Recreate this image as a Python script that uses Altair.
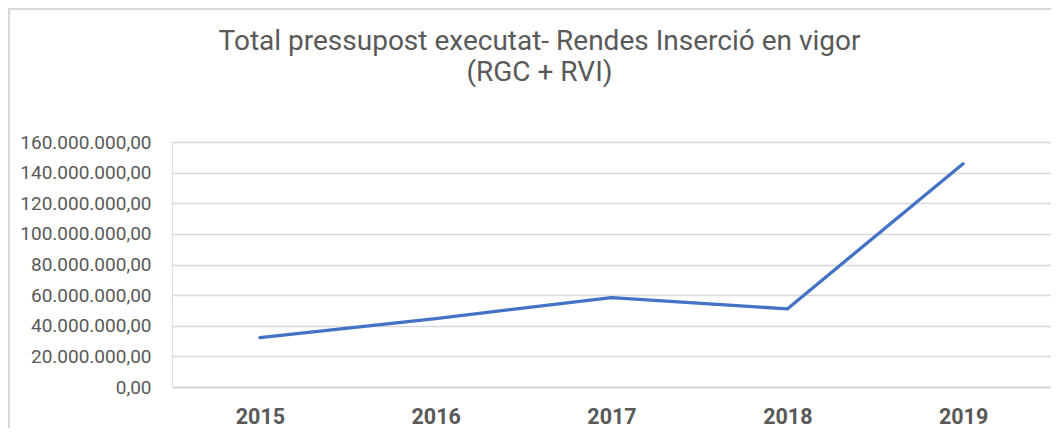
import altair as alt
import pandas as pd

years = ["2015", "2016", "2017", "2018", "2019"]
values = [32300000, 44700000, 58400000, 51000000, 145800000]
y_ticks = [0, 20000000, 40000000, 60000000, 80000000, 100000000, 120000000, 140000000, 160000000]
title_lines = ["Total pressupost executat- Rendes Inserció en vigor", "(RGC + RVI)"]

df = pd.DataFrame({"year": years, "value": values})

grey = "#595959"
label_expr = ("replace(replace(replace(format(datum.value, ',.2f'), regexp(',', 'g'), '#'), "
              "regexp('\\\\.', 'g'), ','), regexp('#', 'g'), '.')")

line = alt.Chart(df).mark_line(color="#4472C4", strokeWidth=3.3, strokeCap="round", strokeJoin="round").encode(
    x=alt.X("year:O", title=None, sort=years,
            scale=alt.Scale(padding=0.5),
            axis=alt.Axis(labelAngle=0, ticks=False, domain=True, domainColor="#d9d9d9", domainWidth=2,
                          labelFont="Roboto", labelFontSize=21.5, labelFontWeight="bold", labelColor=grey,
                          labelPadding=19, grid=False)),
    y=alt.Y("value:Q", title=None, scale=alt.Scale(domain=[0, 160000000], nice=False),
            axis=alt.Axis(values=y_ticks, labelExpr=label_expr, ticks=False, domain=False,
                          grid=True, gridColor="#d9d9d9", gridWidth=1.5,
                          labelFont="Roboto", labelFontSize=19, labelColor=grey, labelPadding=21)),
)

frame_left = alt.Chart(df).mark_rule(color="#d9d9d9", strokeWidth=2).encode(
    x=alt.value(-163), y=alt.value(-134), y2=alt.value(300))
frame_top = alt.Chart(df).mark_rule(color="#d9d9d9", strokeWidth=2).encode(
    x=alt.value(-163), x2=alt.value(900), y=alt.value(-133))

chart = alt.layer(frame_left, frame_top, line).properties(
    width=879, height=245,
    title=alt.TitleParams(text=title_lines, font="Roboto", fontSize=28, fontWeight="normal",
                          color=grey, anchor="middle", dx=-72, offset=0, dy=102, baseline="alphabetic",
                          lineHeight=31),
    autosize=alt.AutoSizeParams(type="none"),
    padding={"left": 164, "top": 134, "right": 0, "bottom": 41},
).configure_view(stroke=None).configure(background="white")

chart.save("out.html", embed_options={"renderer": "svg", "actions": False})
